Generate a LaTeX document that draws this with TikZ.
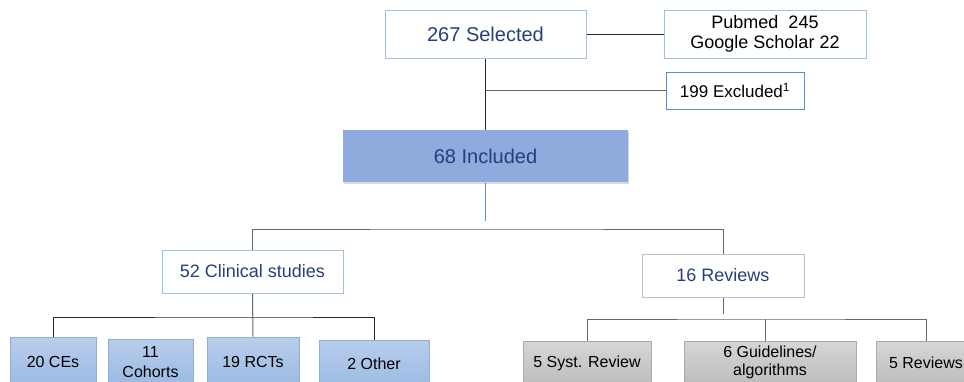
\documentclass[tikz,border=0pt]{standalone}
\usepackage{fontspec}
\setmainfont{Liberation Sans}
\usetikzlibrary{shadows}
\definecolor{navy}{HTML}{24407A}
\definecolor{paleblue}{HTML}{9DC3E6}
\definecolor{midblue}{HTML}{5B8BD0}
\definecolor{incfill}{HTML}{8FAADC}
\definecolor{cellline}{HTML}{8EAFDC}
\definecolor{celltop}{HTML}{B8CDEB}
\definecolor{cellbot}{HTML}{9BBAE3}
\definecolor{greytop}{HTML}{D6D6D6}
\definecolor{greybot}{HTML}{BDBDBD}
\definecolor{greyline}{HTML}{A8A8A8}
\tikzset{
  box/.style={rectangle, inner sep=0pt, align=center, line width=1pt},
  topbox/.style={box, draw=paleblue, fill=white},
  incbox/.style={box, fill=incfill, text=navy,
    drop shadow={shadow xshift=1pt, shadow yshift=-2pt, opacity=0.3}},
  bluecell/.style={box, draw=cellline, top color=celltop, bottom color=cellbot,
    font=\fontsize{16}{20}\selectfont},
  greycell/.style={box, draw=greyline, top color=greytop, bottom color=greybot,
    font=\fontsize{16}{18}\selectfont},
  link/.style={draw=black!85, line width=1pt},
  greylink/.style={draw=black!60, line width=1pt},
}
\begin{document}
\begin{tikzpicture}[x=1pt, y=-1pt]
        \useasboundingbox (0,0) rectangle (964,381);
        % Top %
        \node [topbox, text=navy, minimum width=201, minimum height=48,
               font=\fontsize{20}{24}\selectfont] (sel) at (485.5,34) {267 Selected};
        \node [topbox, minimum width=202, minimum height=48,
               font=\fontsize{18}{20}\selectfont] (src) at (765,34) {Pubmed\ \ 245\\Google Scholar 22};
        \node [box, draw=midblue, fill=white, minimum width=138, minimum height=37,
               font=\fontsize{17}{20}\selectfont] (exc) at (735,90.5) {199 Excluded\textsuperscript{1}};
        \node [incbox, minimum width=285, minimum height=52,
               font=\fontsize{20}{24}\selectfont] (inc) at (485.5,156) {68 Included};
        % Middle %
        \node [topbox, text=navy, minimum width=181, minimum height=43,
               font=\fontsize{18}{22}\selectfont] (clin) at (252.5,271.5) {52 Clinical studies};
        \node [box, draw=black!25, fill=white, text=navy, minimum width=162, minimum height=43,
               font=\fontsize{18}{22}\selectfont] (rev) at (723,275.5) {16 Reviews};
        % Bottom %
        \node [bluecell, minimum width=86, minimum height=50] (ces) at (53,362) {20 CEs};
        \node [bluecell, minimum width=85, minimum height=46] (coh) at (150.5,362) {11\\Cohorts};
        \node [bluecell, minimum width=92, minimum height=50] (rct) at (253,362) {19 RCTs};
        \node [bluecell, minimum width=110, minimum height=48] (oth) at (374,364) {2 Other};
        \node [greycell, minimum width=128, minimum height=44] (syst) at (587,363) {5 Syst. Review};
        \node [greycell, minimum width=172, minimum height=42] (gui) at (770,362) {6 Guidelines/\\algorithms};
        \node [greycell, minimum width=100, minimum height=44] (rvs) at (926,363) {5 Reviews};
        % Links %
        \draw [link] (sel.east) -- (src.west);
        \draw [link] (sel.south) -- (inc.north);
        \draw [greylink] (sel.south |- exc.west) -- (exc.west);
        \coordinate (incend) at (485.5,221);
        \coordinate (split) at (485.5,229);
        \draw [draw=midblue, line width=0.7pt] (inc.south) -- (incend);
        \draw [greylink] (clin.north) |- (split) -| (rev.north);
        \coordinate (clinsplit) at (253,317);
        \draw [link] (ces.north) |- (clinsplit) -| (oth.north);
        \draw [greylink] (clin.south) -- (rct.north);
        \coordinate (revend) at (723,314);
        \coordinate (revsplit) at (765,319);
        \draw [greylink] (rev.south) -- (revend);
        \draw [greylink] (syst.north) |- (revsplit) -| (rvs.north);
        \draw [greylink] (revsplit) -- (revsplit |- gui.north);
\end{tikzpicture}
\end{document}
